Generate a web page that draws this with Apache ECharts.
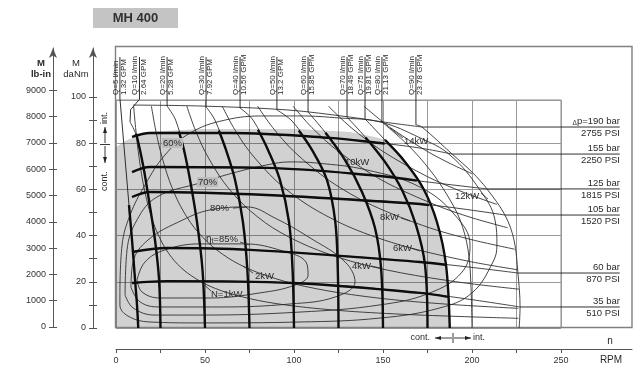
<!DOCTYPE html>
<html>
<head>
<meta charset="utf-8">
<script src="https://cdn.jsdelivr.net/npm/echarts@6.0.0/dist/echarts.min.js"></script>
<style>
html,body{margin:0;padding:0;background:#ffffff;}
#chart{width:640px;height:374px;}
</style>
</head>
<body>
<div id="chart"></div>
<script>
const FONT = '"Liberation Sans", Arial, sans-serif';

// ---------------- axes ----------------
const X_TICKS = [0,25,50,75,100,125,150,175,200,225,250];
const X_LABELS = [0,50,100,150,200,250];
const DANM_TICKS = [0,10,20,30,40,50,60,70,80,90,100];
const DANM_LABELS = [0,20,40,60,80,100];
const LBIN_TICKS = [0,1000,2000,3000,4000,5000,6000,7000,8000,9000];

// ---------------- continuous operation area [rpm, daNm] ----------------
const CONT_AREA = [[0,78.4],[5.1,81],[16.3,84.8],[47.2,86.1],[103.4,86.1],[131.5,84.8],[146,82.6],[151.1,81.4],[162.4,71.9],[172.5,60.6],[180.3,45.9],[185.4,27.3],[187.5,0]];

// ---------------- constant pressure lines [rpm, daNm] ----------------
const PRESSURES = ['190','155','125','105','60','35'];
const PSI = ['2755','2250','1815','1520','870','510'];
const P190 = [[9.6,96.5],[47.2,96.1],[96.1,94.4],[131.5,91.3],[150,89.2],[171.9,87.0]];
const P155 = [[9.0,82.7],[19.1,84.4],[64.0,84.4],[120.2,82.3],[148.3,80.1],[170.8,77.9],[188.8,75.3]];
const P125 = [[9.0,67.5],[19.1,69.7],[84.8,69.3],[148.3,65.8],[170.8,63.6],[208.4,60.2]];
const P105 = [[9.0,56.7],[19.1,58.9],[84.8,57.6],[170.8,53.7],[218.5,48.9]];
const P60  = [[9.0,32.9],[28.7,34.6],[75.3,33.8],[170.8,28.6],[225.8,23.8]];
const P35  = [[9.0,19.5],[28.7,20.3],[99.4,19.5],[170.8,15.2],[227.0,9.1]];
const P_CONT_END = [-1,151,169,176,185,186.5];

// ---------------- constant flow lines [rpm, daNm] ----------------
const Q_FLOWS = [5,10,20,30,40,50,60,70,75,80,90];
const Q_GPM = ['1.32','2.64','5.28','7.92','10.56','13.2','15.85','18.49','19.81','21.13','23.78'];
const Q5  = [[7.3,53.2],[9,38.1],[10.7,20.8],[11.8,10],[12.5,0]];
const Q10 = [[7.9,89.2],[11.8,82.7],[15.2,70.6],[18.5,55.4],[21.9,38.1],[24.2,20.8],[25,0]];
const Q20 = [[28.7,96.1],[33.5,90],[38.2,77.1],[41.6,64.1],[45.5,45.9],[48.6,25.1],[50,0]];
const Q30 = [[50.6,95.7],[55.6,90],[61.8,77.1],[66.9,64.1],[71.3,45.9],[73.8,25.1],[75,0]];
const Q40 = [[69.7,95.2],[77,90],[85.4,77.1],[92.1,64.1],[97.2,45.9],[99.2,25.1],[100,0]];
const Q50 = [[90.4,94.4],[99.4,89.2],[110.1,77.1],[118.5,64.1],[123.2,45.9],[124.6,25.1],[125,0]];
const Q60 = [[107.9,93.5],[117.4,84.8],[128.7,72.7],[138.2,58.9],[145.5,43.3],[148.9,26],[150,0]];
const Q70 = [[129.8,91.3],[140.4,82.3],[151.1,71.9],[160.7,59.7],[168.5,44.6],[173.6,27.3],[175,0]];
const Q75 = [[139.9,90.5],[151.1,81.4],[162.4,71.9],[172.5,60.6],[180.3,45.9],[185.4,27.3],[187.5,0]];
const Q80 = [[149.4,89.2],[164,79.2],[176.4,68.4],[186,57.6],[193.3,46.8],[197.8,33.8],[199.4,18.6],[200,0]];
const Q90 = [[168.5,88.0],[171.9,87.0],[188.8,75.3],[200,67.5],[208.4,60.2],[218.5,48.9],[223.6,38.1],[225.8,23.8],[227,9.1],[226.5,0]];
const Q_CONT_TOP = [100,84,85,85.5,85.8,85.5,84.5,82.5,81.4,-1,-1];
const Q_SHAFT = [2.2,13.2,28.7,50.6,69.7,90.4,107.9,129.8,139.9,149.4,168.5];

// ---------------- total efficiency contours [rpm, daNm] ----------------
const E60 = [[2.2,15.6],[3.4,35.9],[7.9,48.9],[16.3,61.9],[27.5,74.9],[41.6,84.4],[61.2,90.0],[83.7,91.8],[103.4,91.8],[125.8,90.9],[148.3,89.2],[170.8,82.3],[187.6,74.9],[204.5,59.7],[212.9,46.8],[214,35.9],[211.8,28.6],[200,15.2],[182,8.7],[148.3,4.3],[103.4,2.6],[47.2,2.2],[19.1,2.6],[6.7,5.2],[2.2,10],[2.2,15.6]];
const E70 = [[5.1,14.3],[6.2,33.8],[11.8,46.8],[23.0,56.7],[47.2,62.8],[65.7,67.1],[84.8,70.6],[97.8,71.9],[112.9,71.4],[141.0,68.4],[170.8,61.0],[190.4,48.9],[198.9,35.9],[194.4,24.2],[176.4,15.2],[148.3,10.0],[103.4,6.9],[47.2,5.6],[21.9,5.6],[9.6,8.7],[5.1,14.3]];
const E80 = [[8.4,17.7],[9.6,28.6],[18.0,38.1],[37.6,46.8],[52.8,51.1],[73.6,52.4],[89.3,47.6],[109.0,39.0],[128.7,28.6],[134.3,19.9],[123.0,13.4],[97.8,10.4],[58.4,9.1],[24.7,9.1],[13.5,11.3],[8.4,17.7]];
const E85 = [[11.8,20.8],[16.3,28.6],[27.5,33.8],[47.2,36.4],[72.5,36.4],[93.8,33.3],[106.7,28.6],[107.9,22.9],[100.6,18.6],[80.9,15.2],[52.8,13.0],[24.7,13.0],[14.6,15.6],[11.8,20.8]];

// ---------------- output power lines [rpm, daNm] ----------------
const N1  = [[9.9,96],[11,86.8],[12.5,76.4],[15,63.7],[18,53.1],[22,43.4],[27,35.4],[33,28.9],[40,23.9],[50,19.1],[62,15.4],[80,11.9],[100,9.5],[130,7.3],[165,5.8],[200,4.8],[226,4.2]];
const N2  = [[19.9,96],[22,86.8],[25,76.4],[30,63.7],[36,53.1],[44,43.4],[54,35.4],[66,28.9],[80,23.9],[100,19.1],[125,15.3],[155,12.3],[190,10.1],[226,8.5]];
const N4  = [[39.8,96],[44,86.8],[50,76.4],[60,63.7],[72,53.1],[88,43.4],[108,35.4],[132,28.9],[160,23.9],[195,19.6],[226.4,16.8]];
const N6  = [[59.7,96],[66,86.8],[75,76.4],[90,63.7],[108,53.1],[132,43.4],[162,35.4],[198,28.9],[225.6,25.2]];
const N8  = [[79.6,96],[88,86.8],[100,76.4],[120,63.7],[144,53.1],[176,43.4],[200,38.2],[224,34.1]];
const N10 = [[99.5,96],[110,86.8],[125,76.4],[150,63.7],[180,53.1],[200,47.7],[220,43.4]];
const N12 = [[119.4,96],[132,86.8],[150,76.4],[175,65.5],[195,58.8],[214,53.5]];
const N14 = [[139.3,96],[154,86.8],[175,76.4],[188,71.1],[200,66.8]];

// ---------------- helpers ----------------
function clipX(pts, xmax){
  const out=[];
  for(let i=0;i<pts.length;i++){
    const p=pts[i];
    if(p[0]<=xmax){ out.push(p); }
    else { if(i>0){ const a=pts[i-1]; const t=(xmax-a[0])/(p[0]-a[0]); out.push([xmax, a[1]+t*(p[1]-a[1])]); } break; }
  }
  return out;
}
function clipY(pts, ymax){
  const out=[];
  for(let i=0;i<pts.length;i++){
    const p=pts[i];
    if(p[1]<=ymax){
      if(out.length===0 && i>0){ const a=pts[i-1]; const t=(ymax-a[1])/(p[1]-a[1]); out.push([a[0]+t*(p[0]-a[0]), ymax]); }
      out.push(p);
    }
  }
  return out;
}
function thinLine(data, smooth){
  return {type:'line', xAxisIndex:0, yAxisIndex:0, data, symbol:'none', showSymbol:false, smooth: smooth===undefined?0.35:smooth,
    lineStyle:{color:'#262626', width:0.85}, z:3, silent:true, animation:false};
}
function thickLine(data){
  return {type:'line', xAxisIndex:0, yAxisIndex:0, data, symbol:'none', showSymbol:false, smooth:0.35,
    lineStyle:{color:'#0d0d0d', width:2.4}, z:5, silent:true, animation:false};
}

const P_LINES = [P190,P155,P125,P105,P60,P35];
const Q_LINES = [Q5,Q10,Q20,Q30,Q40,Q50,Q60,Q70,Q75,Q80,Q90];
const E_LINES = [E60,E70,E80,E85];
const N_LINES = [N1,N2,N4,N6,N8,N10,N12,N14];

const series = [];
series.push({type:'line', xAxisIndex:0, yAxisIndex:0, data:CONT_AREA, symbol:'none', showSymbol:false,
  lineStyle:{width:0, opacity:0}, areaStyle:{color:'rgba(0,0,0,0.26)', origin:'start'}, z:1, silent:true});
E_LINES.forEach(d=>series.push(thinLine(d,0.4)));
N_LINES.forEach(d=>series.push(thinLine(d,0.3)));
P_LINES.forEach((d,i)=>{
  series.push(thinLine(d,0.35));
  if(P_CONT_END[i]>0) series.push(thickLine(clipX(d,P_CONT_END[i])));
});
Q_LINES.forEach((d,i)=>{
  series.push(thinLine(d,0.35));
  if(Q_CONT_TOP[i]>0) series.push(thickLine(clipY(d,Q_CONT_TOP[i])));
});

// arrows: pressure labels -> end of each pressure line
const LABEL_RPM = 283;
const arrowData = [];
P_LINES.forEach(d=>{ const e=d[d.length-1]; arrowData.push({coords:[[LABEL_RPM,e[1]],[e[0],e[1]]]}); });
// arrows: flow labels -> top of each flow line
const Q_LABEL_TOP = 117.3;
Q_LINES.forEach((d,i)=>{
  const t=d[0], s=Q_SHAFT[i];
  if(i===0) arrowData.push({coords:[[s,Q_LABEL_TOP],[s,99.5],[t[0],t[1]]]});
  else if(i===1) arrowData.push({coords:[[s,Q_LABEL_TOP],[s,99],[8.2,94.5],[t[0],t[1]]]});
  else arrowData.push({coords:[[s,Q_LABEL_TOP],[t[0],t[1]]]});
});
series.push({type:'lines', coordinateSystem:'cartesian2d', xAxisIndex:0, yAxisIndex:0, polyline:true, clip:false,
  symbol:['none','arrow'], symbolSize:7, lineStyle:{color:'#1a1a1a', width:0.9, opacity:1, curveness:0},
  data:arrowData, z:6, silent:true, animation:false});

// label leaders [rpm, daNm]
const LEADERS = [
  [[153.9,86.6],[161.2,82.3]],   // 14kW
  [[205.1,58.4],[209,55.8]],     // 12kW
  [[124.2,76.6],[128.7,73.2]],   // 10kW
  [[160.1,47.6],[165.2,46.3]],   // 8kW
  [[165.7,34.6],[170.8,33.3]],   // 6kW
  [[143.3,26.8],[148.3,26.0]],   // 4kW
  [[71.3,26.8],[77,23.8]],       // 2kW
  [[47.2,20.3],[53.4,16.0]],     // 1kW
  [[65.7,51.9],[73.6,52.4]],     // 80%
  [[69.7,37.2],[75.3,35.9]]      // 85%
];
series.push({type:'lines', coordinateSystem:'cartesian2d', xAxisIndex:0, yAxisIndex:0, polyline:false, clip:false,
  symbol:'none', lineStyle:{color:'#262626', width:0.8, opacity:1, curveness:0},
  data:LEADERS.map(c=>({coords:c})), z:6, silent:true, animation:false});

const tickStyle = {color:'#555', width:1};
const labelStyle = {color:'#333', fontSize:9, fontFamily:FONT, formatter:(v)=>String(v)};

const chart = echarts.init(document.getElementById('chart'), null, {renderer:'canvas', width:640, height:374});
chart.setOption({
  animation:false,
  backgroundColor:'#ffffff',
  grid:[
    {left:116, top:100, width:445, height:228, show:true, borderColor:'#8a8a8a', borderWidth:1, containLabel:false, outerBoundsMode:'none'},
    {left:116, top:330, width:516, height:19, show:false, containLabel:false, outerBoundsMode:'none'},
    {left:93, top:48, width:1, height:280, show:false, containLabel:false, outerBoundsMode:'none'},
    {left:53, top:48, width:1, height:279, show:false, containLabel:false, outerBoundsMode:'none'}
  ],
  xAxis:[
    {gridIndex:0, type:'value', min:0, max:250, interval:25, axisLine:{show:false}, axisTick:{show:false}, axisLabel:{show:false},
      splitLine:{show:true, lineStyle:{color:'#9a9a9a', width:1}}},
    {gridIndex:1, type:'value', min:0, max:289.9, axisLine:{show:true, onZero:false, lineStyle:tickStyle},
      axisTick:{show:true, length:4, customValues:X_TICKS, lineStyle:tickStyle},
      axisLabel:Object.assign({show:true, customValues:X_LABELS, margin:7}, labelStyle), splitLine:{show:false}},
    {gridIndex:1, type:'value', min:0, max:289.9, axisLine:{show:false},
      axisTick:{show:true, inside:true, length:4, customValues:X_TICKS, lineStyle:tickStyle}, axisLabel:{show:false}, splitLine:{show:false}},
    {gridIndex:2, type:'value', show:false},
    {gridIndex:3, type:'value', show:false}
  ],
  yAxis:[
    {gridIndex:0, type:'value', min:0, max:98.7, interval:20, axisLine:{show:false}, axisTick:{show:false}, axisLabel:{show:false},
      splitLine:{show:true, lineStyle:{color:'#9a9a9a', width:1}}},
    {gridIndex:1, type:'value', show:false},
    {gridIndex:2, type:'value', min:0, max:121.2, position:'left',
      axisLine:{show:true, onZero:false, symbol:['none','arrow'], symbolSize:[6,10], lineStyle:tickStyle},
      axisTick:{show:true, length:4, customValues:DANM_TICKS, lineStyle:tickStyle},
      axisLabel:Object.assign({show:true, customValues:DANM_LABELS, margin:7}, labelStyle), splitLine:{show:false}},
    {gridIndex:2, type:'value', min:0, max:121.2, position:'left', axisLine:{show:false},
      axisTick:{show:true, inside:true, length:4, customValues:DANM_TICKS, lineStyle:tickStyle}, axisLabel:{show:false}, splitLine:{show:false}},
    {gridIndex:3, type:'value', min:0, max:10608, position:'left',
      axisLine:{show:true, onZero:false, symbol:['none','arrow'], symbolSize:[6,10], lineStyle:tickStyle},
      axisTick:{show:true, length:4, customValues:LBIN_TICKS, lineStyle:tickStyle},
      axisLabel:Object.assign({show:true, customValues:LBIN_TICKS, margin:7}, labelStyle), splitLine:{show:false}},
    {gridIndex:3, type:'value', min:0, max:10608, position:'left', axisLine:{show:false},
      axisTick:{show:true, inside:true, length:4, customValues:LBIN_TICKS, lineStyle:tickStyle}, axisLabel:{show:false}, splitLine:{show:false}}
  ],
  series
});

// ---------------- annotations ----------------
const G = [];
const px = (x,y)=>chart.convertToPixel({gridIndex:0},[x,y]);
function txt(x,y,s,o){
  o=o||{};
  const st={text:s, x:0, y:0, fill:o.color||'#2a2a2a',
    font:(o.bold?'bold ':'')+(o.size||9)+'px '+FONT,
    align:o.align||'left', textAlign:o.align||'left', verticalAlign:'middle', textVerticalAlign:'middle'};
  if(o.rich) st.rich=o.rich;
  if(o.bg){ st.backgroundColor=o.bg; st.padding=o.pad||[0,1]; }
  G.push({type:'text', x, y, rotation:o.rot||0, z:30, style:st});
}
function gline(x1,y1,x2,y2,w){ G.push({type:'line', z:30, shape:{x1,y1,x2,y2}, style:{stroke:'#222', lineWidth:w||0.9}}); }
function garrow(x1,y1,x2,y2){
  gline(x1,y1,x2,y2);
  const a=Math.atan2(y2-y1,x2-x1), L=6, W=2;
  const bx=x2-L*Math.cos(a), by=y2-L*Math.sin(a);
  G.push({type:'polygon', z:30, shape:{points:[[x2,y2],[bx+W*Math.sin(a),by-W*Math.cos(a)],[bx-W*Math.sin(a),by+W*Math.cos(a)]]}, style:{fill:'#222'}});
}

// title
G.push({type:'rect', z:20, shape:{x:93,y:8,width:85,height:20}, style:{fill:'#c4c4c4'}});
txt(135.5,18.5,'MH 400',{bold:true,size:13,align:'center',color:'#303030'});
// outer frame
G.push({type:'rect', z:2, shape:{x:115.5,y:46.5,width:516.5,height:281}, style:{fill:'none', stroke:'#808080', lineWidth:1.4}});

// axis names
txt(41,63,'M',{bold:true,size:9.5,align:'center'});
txt(41,74,'lb-in',{bold:true,size:9.5,align:'center'});
txt(76,63,'M',{size:9.5,align:'center'});
txt(76,74,'daNm',{size:9.5,align:'center'});
txt(610,341,'n',{size:10,align:'center'});
txt(611,360,'RPM',{size:10,align:'center'});

// pressure labels
P_LINES.forEach((d,i)=>{
  const y=px(0,d[d.length-1][1])[1];
  if(i===0) txt(620,y-6,'{d|Δ}p=190 bar',{size:9.5,align:'right',rich:{d:{fontSize:6.5,fontFamily:FONT,fill:'#2a2a2a',padding:[4,0,0,0]}}});
  else txt(620,y-6,PRESSURES[i]+' bar',{size:9.5,align:'right'});
  txt(620,y+6,PSI[i]+' PSI',{size:9.5,align:'right'});
});

// flow labels (rotated)
Q_FLOWS.forEach((q,i)=>{
  const sx=px(Q_SHAFT[i],0)[0];
  txt(sx-4.5,95,'Q='+q+' l/min',{size:8,rot:Math.PI/2});
  txt(sx+4,95,Q_GPM[i]+' GPM',{size:8,rot:Math.PI/2});
});

// efficiency / power labels
const GRAYBG='#bdbdbd';
txt(162,143,'60%',{size:9.5,bg:GRAYBG});
txt(197,182,'70%',{size:9.5,bg:GRAYBG});
txt(210,208,'80%',{size:9.5});
txt(206,239,'{e|η}{s|t}=85%',{size:9.5,rich:{e:{fontSize:10,fontFamily:FONT,fill:'#2a2a2a'},s:{fontSize:6.5,fontFamily:FONT,fill:'#2a2a2a',padding:[5,0,0,0]}}});
txt(404,141,'14kW',{size:9.5});
txt(455,196,'12kW',{size:9.5});
txt(345,162,'10kW',{size:9.5});
txt(380,217,'8kW',{size:9.5});
txt(393,248,'6kW',{size:9.5});
txt(352,266,'4kW',{size:9.5});
txt(255,276,'2kW',{size:9.5});
txt(211,294,'N=1kW',{size:9.5});

// cont / int markers, left
txt(105,124,'int.',{size:9,rot:Math.PI/2});
garrow(105,143,105,127);
gline(100,144.5,110,144.5);
garrow(105,146,105,163);
txt(105,191,'cont.',{size:9,rot:Math.PI/2});
// cont / int markers, bottom
txt(430,338,'cont.',{size:9,align:'right'});
garrow(452,338,435,338);
gline(453,333,453,343);
garrow(454,338,471,338);
txt(473,338,'int.',{size:9});

chart.setOption({graphic:{elements:G}});
</script>
</body>
</html>
